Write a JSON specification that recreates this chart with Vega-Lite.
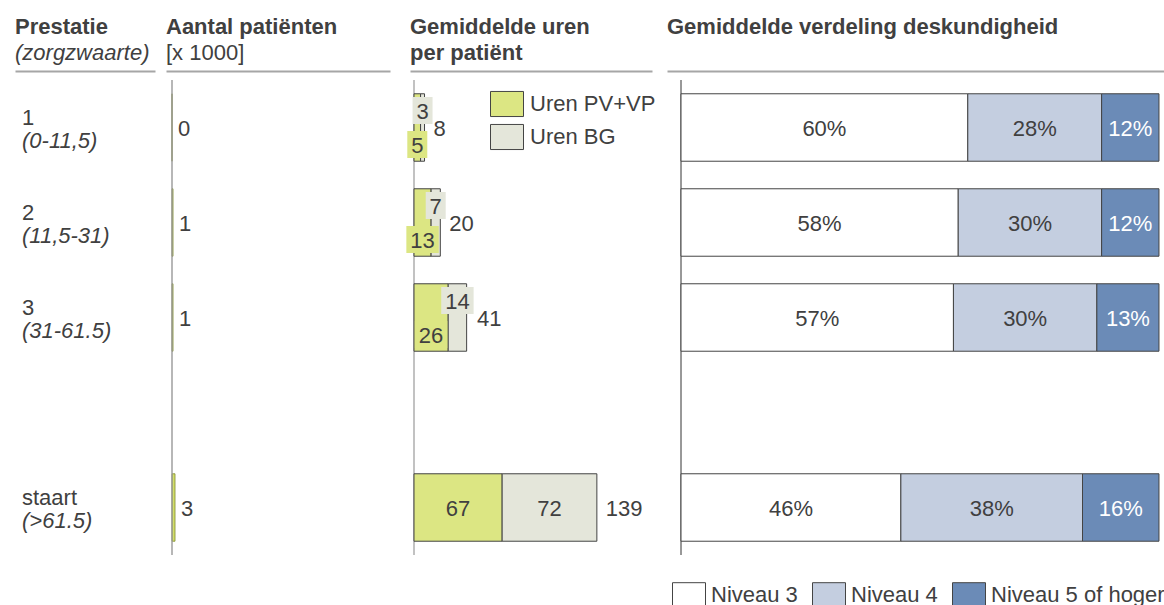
{
  "$schema": "https://vega.github.io/schema/vega-lite/v6.json",
  "padding": {"left": 15, "top": 16, "right": 0, "bottom": 0},
  "background": "white",
  "config": {
    "view": {"stroke": null},
    "font": "Liberation Sans",
    "title": {"anchor": "start", "frame": "group", "font": "Liberation Sans", "fontSize": 22, "fontWeight": "bold", "color": "#404040", "subtitleFont": "Liberation Sans", "subtitleFontSize": 22, "subtitleColor": "#404040", "subtitleFontWeight": "normal", "subtitlePadding": 4, "lineHeight": 26, "offset": 6, "baseline": "top"},
    "legend": {"labelFont": "Liberation Sans", "labelFontSize": 22, "labelColor": "#404040", "symbolType": "M-1,-0.76H1V0.76H-1Z", "symbolSize": 1089, "symbolStrokeColor": "#444444", "symbolStrokeWidth": 1, "padding": 0, "labelLimit": 400},
    "axis": {"domainColor": "#a6a6a6", "domainWidth": 2, "ticks": false, "labels": false, "grid": false, "title": null}
  },
  "datasets": {
    "rijen": [
      {"prestatie": "1", "zorg": "(0-11,5)", "patienten": 0, "totaal": 8},
      {"prestatie": "2", "zorg": "(11,5-31)", "patienten": 1, "totaal": 20},
      {"prestatie": "3", "zorg": "(31-61.5)", "patienten": 1, "totaal": 41},
      {"prestatie": "staart", "zorg": "(>61.5)", "patienten": 3, "totaal": 139}
    ],
    "uren": [
      {"prestatie": "1", "soort": "Uren PV+VP", "uren": 5},
      {"prestatie": "1", "soort": "Uren BG", "uren": 3},
      {"prestatie": "2", "soort": "Uren PV+VP", "uren": 13},
      {"prestatie": "2", "soort": "Uren BG", "uren": 7},
      {"prestatie": "3", "soort": "Uren PV+VP", "uren": 26},
      {"prestatie": "3", "soort": "Uren BG", "uren": 14},
      {"prestatie": "staart", "soort": "Uren PV+VP", "uren": 67},
      {"prestatie": "staart", "soort": "Uren BG", "uren": 72}
    ],
    "verdeling": [
      {"prestatie": "1", "niveau": "Niveau 3", "pct": 60},
      {"prestatie": "1", "niveau": "Niveau 4", "pct": 28},
      {"prestatie": "1", "niveau": "Niveau 5 of hoger", "pct": 12},
      {"prestatie": "2", "niveau": "Niveau 3", "pct": 58},
      {"prestatie": "2", "niveau": "Niveau 4", "pct": 30},
      {"prestatie": "2", "niveau": "Niveau 5 of hoger", "pct": 12},
      {"prestatie": "3", "niveau": "Niveau 3", "pct": 57},
      {"prestatie": "3", "niveau": "Niveau 4", "pct": 30},
      {"prestatie": "3", "niveau": "Niveau 5 of hoger", "pct": 13},
      {"prestatie": "staart", "niveau": "Niveau 3", "pct": 46},
      {"prestatie": "staart", "niveau": "Niveau 4", "pct": 38},
      {"prestatie": "staart", "niveau": "Niveau 5 of hoger", "pct": 16}
    ]
  },
  "spacing": 0,
  "bounds": "flush",
  "resolve": {"scale": {"x": "independent", "y": "independent", "color": "independent"}, "legend": {"color": "independent"}},
  "hconcat": [
    {
      "width": 151, "height": 475,
      "title": {"text": "Prestatie", "subtitle": "(zorgzwaarte)", "subtitleFontStyle": "italic"},
      "data": {"name": "rijen"},
      "layer": [
        {
          "mark": {"type": "text", "align": "left", "baseline": "alphabetic", "dx": 7, "dy": -3, "fontSize": 22, "color": "#404040"},
          "encoding": {
            "x": {"datum": 0, "type": "quantitative", "scale": {"domain": [0, 140], "range": [0, 140]}, "axis": {"orient": "top", "offset": 9}},
            "y": {"field": "prestatie", "type": "nominal", "scale": {"domain": ["1", "2", "3", "leeg", "staart"], "paddingInner": 0.29, "paddingOuter": 0.145}, "axis": null},
            "text": {"field": "prestatie"}
          }
        },
        {
          "mark": {"type": "text", "align": "left", "baseline": "alphabetic", "dx": 7, "dy": 20, "fontSize": 22, "fontStyle": "italic", "color": "#404040"},
          "encoding": {
            "x": {"datum": 0, "type": "quantitative", "scale": {"domain": [0, 140], "range": [0, 140]}, "axis": {"orient": "top", "offset": 9}},
            "y": {"field": "prestatie", "type": "nominal", "scale": {"domain": ["1", "2", "3", "leeg", "staart"], "paddingInner": 0.29, "paddingOuter": 0.145}, "axis": null},
            "text": {"field": "zorg"}
          }
        }
      ]
    },
    {
      "width": 244, "height": 475,
      "title": {"text": "Aantal patiënten", "subtitle": "[x 1000]"},
      "layer": [
        {
          "data": {"name": "rijen"},
          "mark": {"type": "bar", "color": "#d3de6a", "stroke": "#7d8a2a", "strokeWidth": 0.8},
          "encoding": {
            "x": {"field": "patienten", "type": "quantitative", "scale": {"domain": [-6, 218], "range": [0, 224]}, "axis": {"orient": "top", "offset": 9}},
            "x2": {"datum": 0},
            "y": {"field": "prestatie", "type": "nominal", "scale": {"domain": ["1", "2", "3", "leeg", "staart"], "paddingInner": 0.29, "paddingOuter": 0.145}, "axis": null}
          }
        },
        {
          "data": {"values": [{}]},
          "mark": {"type": "rule", "color": "#999999", "strokeWidth": 1.4},
          "encoding": {"x": {"datum": 0, "type": "quantitative", "scale": {"domain": [-6, 218], "range": [0, 224]}, "axis": {"orient": "top", "offset": 9}}}
        },
        {
          "data": {"name": "rijen"},
          "mark": {"type": "text", "align": "left", "baseline": "middle", "dx": 6, "dy": 1, "fontSize": 22, "color": "#404040"},
          "encoding": {
            "x": {"field": "patienten", "type": "quantitative", "scale": {"domain": [-6, 218], "range": [0, 224]}, "axis": {"orient": "top", "offset": 9}},
            "y": {"field": "prestatie", "type": "nominal", "scale": {"domain": ["1", "2", "3", "leeg", "staart"], "paddingInner": 0.29, "paddingOuter": 0.145}, "axis": null},
            "text": {"field": "patienten"}
          }
        }
      ]
    },
    {
      "width": 257, "height": 475,
      "title": {"text": ["Gemiddelde uren", "per patiënt"]},
      "layer": [
        {
          "data": {"values": [{}]},
          "mark": {"type": "rule", "color": "#999999", "strokeWidth": 1.2},
          "encoding": {"x": {"datum": 0, "type": "quantitative", "scale": {"domain": [-3.04, 180.9], "range": [0, 242]}, "axis": {"orient": "top", "offset": 9}}}
        },
        {
          "data": {"name": "uren"},
          "transform": [
            {"stack": "uren", "groupby": ["prestatie"], "sort": [{"field": "soort", "order": "descending"}], "as": ["u0", "u1"]},
            {"calculate": "(datum.u0 + datum.u1) / 2", "as": "um"}
          ],
          "layer": [
            {
              "mark": {"type": "bar", "stroke": "#444444", "strokeWidth": 1},
              "encoding": {
                "x": {"field": "u0", "type": "quantitative", "scale": {"domain": [-3.04, 180.9], "range": [0, 242]}, "axis": {"orient": "top", "offset": 9}},
                "x2": {"field": "u1"},
                "y": {"field": "prestatie", "type": "nominal", "scale": {"domain": ["1", "2", "3", "leeg", "staart"], "paddingInner": 0.29, "paddingOuter": 0.145}, "axis": null},
                "color": {"field": "soort", "type": "nominal", "scale": {"domain": ["Uren PV+VP", "Uren BG"], "range": ["#dce683", "#e4e6da"]}, "legend": {"title": null, "orient": "none", "legendX": 80, "legendY": 7, "rowPadding": 1, "labelOffset": 6}}
              }
            },
            {
              "transform": [{"filter": "datum.prestatie !== 'staart' && datum.soort === 'Uren BG'"}],
              "layer": [
                {
                  "mark": {"type": "point", "filled": true, "size": 729, "opacity": 1, "color": "#e4e6da", "strokeWidth": 0, "yOffset": -17},
                  "encoding": {
                    "x": {"field": "um", "type": "quantitative", "scale": {"domain": [-3.04, 180.9], "range": [0, 242]}, "axis": {"orient": "top", "offset": 9}},
                    "y": {"field": "prestatie", "type": "nominal", "scale": {"domain": ["1", "2", "3", "leeg", "staart"], "paddingInner": 0.29, "paddingOuter": 0.145}, "axis": null},
                    "shape": {"condition": {"test": "datum.uren >= 10", "value": "M-1.2,-1H1.2V1H-1.2Z"}, "value": "M-0.74,-1H0.74V1H-0.74Z"}
                  }
                },
                {
                  "mark": {"type": "text", "baseline": "middle", "fontSize": 22, "color": "#404040", "yOffset": -16},
                  "encoding": {
                    "x": {"field": "um", "type": "quantitative", "scale": {"domain": [-3.04, 180.9], "range": [0, 242]}, "axis": {"orient": "top", "offset": 9}},
                    "y": {"field": "prestatie", "type": "nominal", "scale": {"domain": ["1", "2", "3", "leeg", "staart"], "paddingInner": 0.29, "paddingOuter": 0.145}, "axis": null},
                    "text": {"field": "uren"}
                  }
                }
              ]
            },
            {
              "transform": [{"filter": "datum.prestatie !== 'staart' && datum.soort === 'Uren PV+VP'"}],
              "layer": [
                {
                  "mark": {"type": "point", "filled": true, "size": 729, "opacity": 1, "color": "#dce683", "strokeWidth": 0, "yOffset": 17},
                  "encoding": {
                    "x": {"field": "um", "type": "quantitative", "scale": {"domain": [-3.04, 180.9], "range": [0, 242]}, "axis": {"orient": "top", "offset": 9}},
                    "y": {"field": "prestatie", "type": "nominal", "scale": {"domain": ["1", "2", "3", "leeg", "staart"], "paddingInner": 0.29, "paddingOuter": 0.145}, "axis": null},
                    "shape": {"condition": {"test": "datum.uren >= 10", "value": "M-1.2,-1H1.2V1H-1.2Z"}, "value": "M-0.74,-1H0.74V1H-0.74Z"}
                  }
                },
                {
                  "mark": {"type": "text", "baseline": "middle", "fontSize": 22, "color": "#404040", "yOffset": 18},
                  "encoding": {
                    "x": {"field": "um", "type": "quantitative", "scale": {"domain": [-3.04, 180.9], "range": [0, 242]}, "axis": {"orient": "top", "offset": 9}},
                    "y": {"field": "prestatie", "type": "nominal", "scale": {"domain": ["1", "2", "3", "leeg", "staart"], "paddingInner": 0.29, "paddingOuter": 0.145}, "axis": null},
                    "text": {"field": "uren"}
                  }
                }
              ]
            },
            {
              "transform": [{"filter": "datum.prestatie === 'staart'"}],
              "mark": {"type": "text", "baseline": "middle", "fontSize": 22, "color": "#404040", "dy": 1},
              "encoding": {
                "x": {"field": "um", "type": "quantitative", "scale": {"domain": [-3.04, 180.9], "range": [0, 242]}, "axis": {"orient": "top", "offset": 9}},
                "y": {"field": "prestatie", "type": "nominal", "scale": {"domain": ["1", "2", "3", "leeg", "staart"], "paddingInner": 0.29, "paddingOuter": 0.145}, "axis": null},
                "text": {"field": "uren"}
              }
            }
          ]
        },
        {
          "data": {"name": "rijen"},
          "mark": {"type": "text", "align": "left", "baseline": "middle", "dx": 9, "dy": 1, "fontSize": 22, "color": "#404040"},
          "encoding": {
            "x": {"field": "totaal", "type": "quantitative", "scale": {"domain": [-3.04, 180.9], "range": [0, 242]}, "axis": {"orient": "top", "offset": 9}},
            "y": {"field": "prestatie", "type": "nominal", "scale": {"domain": ["1", "2", "3", "leeg", "staart"], "paddingInner": 0.29, "paddingOuter": 0.145}, "axis": null},
            "text": {"field": "totaal"}
          }
        }
      ]
    },
    {
      "width": 497, "height": 475,
      "title": {"text": "Gemiddelde verdeling deskundigheid", "offset": 32},
      "layer": [
        {
          "data": {"values": [{}]},
          "mark": {"type": "rule", "color": "#333333", "strokeWidth": 1},
          "encoding": {"x": {"datum": 0, "type": "quantitative", "scale": {"domain": [-2.93, 101.05], "range": [0, 497]}, "axis": {"orient": "top", "offset": 9}}}
        },
        {
          "data": {"name": "verdeling"},
          "transform": [
            {"stack": "pct", "groupby": ["prestatie"], "sort": [{"field": "niveau", "order": "ascending"}], "as": ["p0", "p1"]},
            {"calculate": "(datum.p0 + datum.p1) / 2", "as": "pm"},
            {"calculate": "datum.pct + '%'", "as": "label"}
          ],
          "layer": [
            {
              "mark": {"type": "bar", "stroke": "#444444", "strokeWidth": 1},
              "encoding": {
                "x": {"field": "p0", "type": "quantitative", "scale": {"domain": [-2.93, 101.05], "range": [0, 497]}, "axis": {"orient": "top", "offset": 9}},
                "x2": {"field": "p1"},
                "y": {"field": "prestatie", "type": "nominal", "scale": {"domain": ["1", "2", "3", "leeg", "staart"], "paddingInner": 0.29, "paddingOuter": 0.145}, "axis": null},
                "color": {"field": "niveau", "type": "nominal", "scale": {"domain": ["Niveau 3", "Niveau 4", "Niveau 5 of hoger"], "range": ["#ffffff", "#c4cee0", "#6b8bb7"]}, "legend": {"title": null, "orient": "none", "direction": "horizontal", "legendX": 5, "legendY": 498, "columnPadding": 12, "labelOffset": 5}}
              }
            },
            {
              "mark": {"type": "text", "baseline": "middle", "fontSize": 22, "dy": 1},
              "encoding": {
                "x": {"field": "pm", "type": "quantitative", "scale": {"domain": [-2.93, 101.05], "range": [0, 497]}, "axis": {"orient": "top", "offset": 9}},
                "y": {"field": "prestatie", "type": "nominal", "scale": {"domain": ["1", "2", "3", "leeg", "staart"], "paddingInner": 0.29, "paddingOuter": 0.145}, "axis": null},
                "text": {"field": "label"},
                "color": {"condition": {"test": "datum.niveau === 'Niveau 5 of hoger'", "value": "#ffffff"}, "value": "#404040"}
              }
            }
          ]
        }
      ]
    }
  ]
}
